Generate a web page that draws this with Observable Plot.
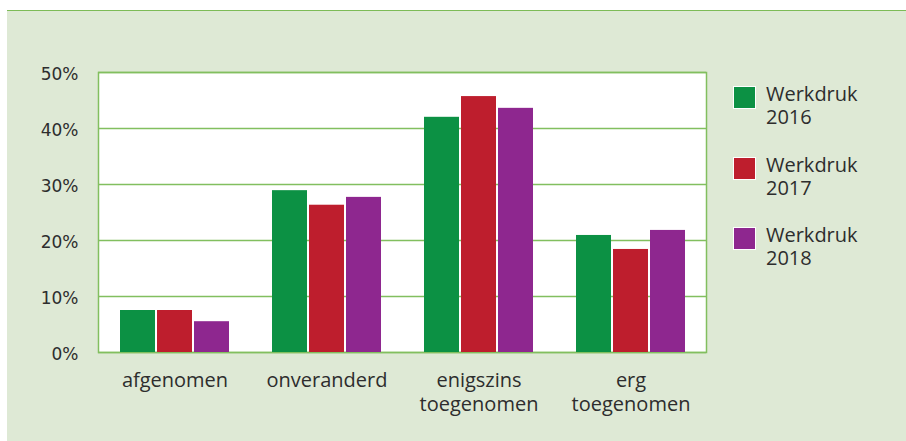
<!DOCTYPE html>
<html>
<head>
<meta charset="utf-8">
<script src="https://cdn.jsdelivr.net/npm/d3@7"></script>
<script src="https://cdn.jsdelivr.net/npm/@observablehq/plot@0.6"></script>
<style>
  html, body { margin: 0; padding: 0; background: #ffffff; }
  #wrap { position: relative; width: 906px; height: 441px; overflow: hidden; }
  #bg { position: absolute; left: 7px; top: 10px; right: 0; bottom: 0; background: #dee9d5; border-top: 1.5px solid #7dbb57; }
  .layer { position: absolute; left: 0; top: 0; }
  .leg { position: absolute; left: 733px; font-family: "Open Sans", sans-serif; font-size: 20px; line-height: 23px; color: #2d2d2d; }
  .sw { position: absolute; left: 0; top: 4px; width: 21px; height: 21px; border: 1px solid #ffffff; }
  .lt { position: absolute; left: 33px; top: 0; white-space: pre; }
</style>
</head>
<body>
<div id="wrap"><div id="bg"></div></div>
<script>
const categories = ["afgenomen", "onveranderd", "enigszins toegenomen", "erg toegenomen"];
const tickLabels = ["afgenomen", "onveranderd", "enigszins\ntoegenomen", "erg\ntoegenomen"];
const series = ["Werkdruk 2016", "Werkdruk 2017", "Werkdruk 2018"];
const v2016 = [7.5, 28.9, 42.0, 20.9];
const v2017 = [7.5, 26.3, 45.7, 18.4];
const v2018 = [5.5, 27.7, 43.6, 21.8];
const colors = ["#0c9144", "#be1e2d", "#8e278f"];
const yTicks = [0, 10, 20, 30, 40, 50];

const seriesValues = [v2016, v2017, v2018];
const data = [];
categories.forEach((c, i) => {
  series.forEach((s, j) => data.push({category: c, series: s, value: seriesValues[j][i]}));
});

const W = 906, H = 441;
const margins = {marginLeft: 98, marginRight: 200, marginTop: 72, marginBottom: 89};
const lineColor = "#82bf5f";
const textColor = "#2d2d2d";

// Layer A: frame, grid, y axis
const plotA = Plot.plot({
  width: W, height: H, ...margins,
  style: {background: "transparent", color: textColor, fontFamily: "DejaVu Sans, sans-serif", fontSize: "17px"},
  y: {domain: [0, 50]},
  marks: [
    Plot.frame({fill: "white", stroke: lineColor, strokeWidth: 1.5}),
    Plot.gridY(yTicks, {stroke: lineColor, strokeOpacity: 1, strokeWidth: 1.5}),
    Plot.axisY(yTicks, {tickSize: 0, tickPadding: 20, fontSize: 17, dy: 2, tickFormat: d => d + "%", fill: textColor})
  ]
});
plotA.classList.add("layer");

// Layer B: grouped bars
const labelOf = new Map(categories.map((c, i) => [c, tickLabels[i]]));
const plotB = Plot.plot({
  width: W, height: H, ...margins,
  style: {background: "transparent", color: textColor, fontFamily: "Open Sans, sans-serif", fontSize: "20px"},
  fx: {domain: categories, paddingInner: 0.27, paddingOuter: 0.135, label: null},
  x: {domain: series, paddingInner: 0.05, paddingOuter: 0, axis: null},
  y: {domain: [0, 50], axis: null},
  color: {domain: series, range: colors},
  marks: [
    Plot.barY(data, {fx: "category", x: "series", y: "value", fill: "series"}),
    Plot.axisFx({anchor: "bottom", tickSize: 0, tickPadding: 17, fontSize: 20, lineHeight: 1.2, tickFormat: d => labelOf.get(d), fill: textColor, label: null})
  ]
});
plotB.classList.add("layer");

const wrap = document.getElementById("wrap");
wrap.appendChild(plotA);
wrap.appendChild(plotB);

// Legend
series.forEach((s, i) => {
  const item = document.createElement("div");
  item.className = "leg";
  item.style.top = (82 + i * 70.5) + "px";
  const sw = document.createElement("div");
  sw.className = "sw";
  sw.style.background = colors[i];
  const lt = document.createElement("div");
  lt.className = "lt";
  lt.textContent = s.replace(" ", "\n");
  item.appendChild(sw);
  item.appendChild(lt);
  wrap.appendChild(item);
});
</script>
</body>
</html>
